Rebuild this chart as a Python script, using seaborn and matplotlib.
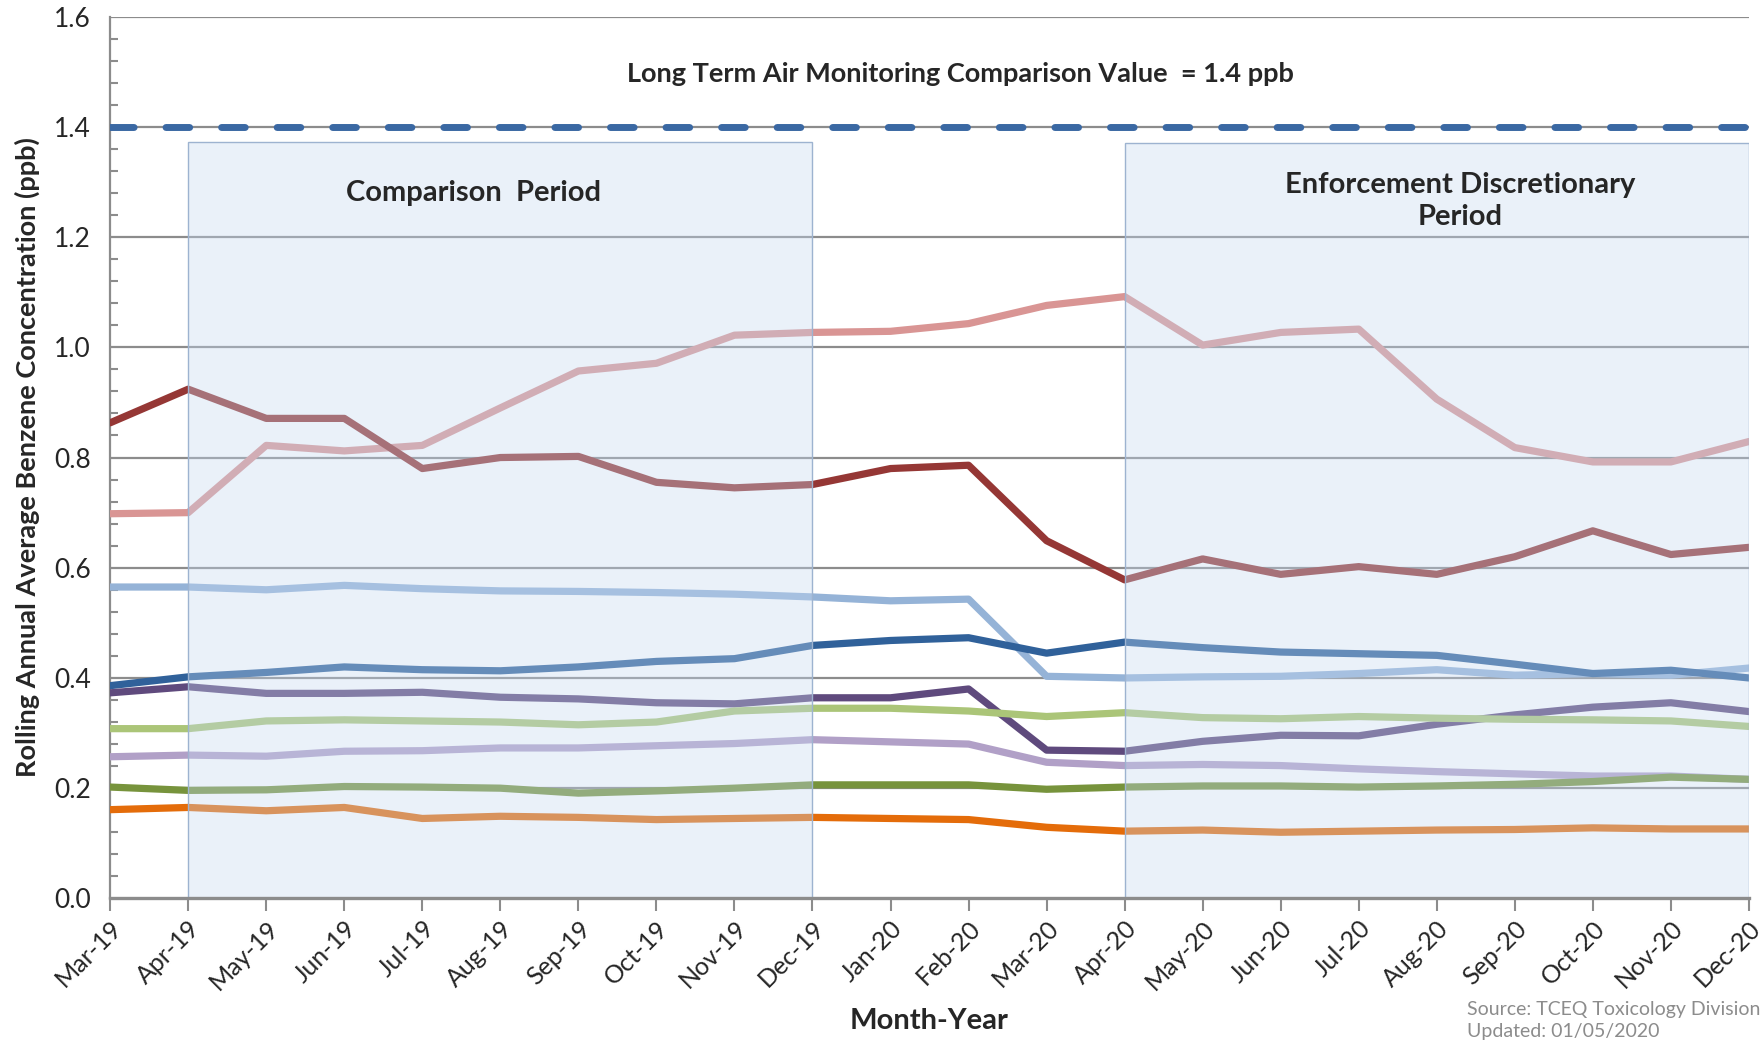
import matplotlib
matplotlib.use("Agg")
import matplotlib.pyplot as plt
from matplotlib.patches import Rectangle
from matplotlib.ticker import MultipleLocator
import seaborn as sns
import pandas as pd

months = ["Mar-19", "Apr-19", "May-19", "Jun-19", "Jul-19", "Aug-19", "Sep-19",
          "Oct-19", "Nov-19", "Dec-19", "Jan-20", "Feb-20", "Mar-20", "Apr-20",
          "May-20", "Jun-20", "Jul-20", "Aug-20", "Sep-20", "Oct-20", "Nov-20", "Dec-20"]

pink = [0.698, 0.700, 0.822, 0.812, 0.822, 0.890, 0.957, 0.971, 1.022, 1.027, 1.029,
        1.043, 1.076, 1.092, 1.004, 1.027, 1.033, 0.906, 0.818, 0.792, 0.792, 0.829]
dark_red = [0.863, 0.924, 0.871, 0.871, 0.780, 0.800, 0.802, 0.755, 0.745, 0.751, 0.780,
            0.786, 0.649, 0.578, 0.616, 0.588, 0.602, 0.588, 0.620, 0.667, 0.624, 0.637]
light_blue = [0.565, 0.565, 0.560, 0.568, 0.562, 0.558, 0.557, 0.555, 0.552, 0.547, 0.540,
              0.543, 0.403, 0.400, 0.402, 0.403, 0.408, 0.415, 0.405, 0.408, 0.405, 0.418]
dark_blue = [0.386, 0.402, 0.410, 0.420, 0.415, 0.413, 0.420, 0.430, 0.435, 0.459, 0.468,
             0.473, 0.445, 0.465, 0.455, 0.447, 0.444, 0.441, 0.425, 0.408, 0.414, 0.400]
dark_purple = [0.373, 0.384, 0.372, 0.372, 0.374, 0.365, 0.362, 0.355, 0.353, 0.364, 0.364,
               0.380, 0.269, 0.267, 0.285, 0.296, 0.295, 0.316, 0.333, 0.347, 0.355, 0.339]
light_green = [0.308, 0.308, 0.322, 0.324, 0.322, 0.320, 0.315, 0.320, 0.340, 0.345, 0.345,
               0.340, 0.330, 0.337, 0.328, 0.326, 0.330, 0.327, 0.325, 0.324, 0.322, 0.312]
light_purple = [0.257, 0.260, 0.258, 0.267, 0.268, 0.273, 0.273, 0.277, 0.281, 0.288, 0.284,
                0.280, 0.247, 0.241, 0.243, 0.241, 0.235, 0.230, 0.226, 0.222, 0.222, 0.216]
dark_green = [0.202, 0.196, 0.197, 0.203, 0.202, 0.200, 0.191, 0.195, 0.200, 0.206, 0.206,
              0.206, 0.198, 0.202, 0.204, 0.204, 0.202, 0.204, 0.207, 0.212, 0.220, 0.216]
orange = [0.161, 0.165, 0.159, 0.165, 0.145, 0.149, 0.147, 0.143, 0.145, 0.147, 0.145,
          0.143, 0.129, 0.122, 0.124, 0.120, 0.122, 0.124, 0.125, 0.128, 0.126, 0.126]

series = {"pink": pink, "dark_red": dark_red, "light_blue": light_blue,
          "dark_blue": dark_blue, "dark_purple": dark_purple, "light_green": light_green,
          "light_purple": light_purple, "dark_green": dark_green, "orange": orange}
colors = {"pink": "#D99594", "dark_red": "#953735", "light_blue": "#95B3D7",
          "dark_blue": "#30619A", "dark_purple": "#5F4A7D", "light_green": "#ABC578",
          "light_purple": "#B1A0C7", "dark_green": "#77933C", "orange": "#E46C0A"}

comparison_value = 1.4

rows = []
for name, vals in series.items():
    for i, v in enumerate(vals):
        rows.append({"site": name, "month": i, "value": v})
df = pd.DataFrame(rows)

sns.set_style("white")
plt.rcParams['font.family'] = ['Lato', 'DejaVu Sans']

fig = plt.figure(figsize=(17.63, 10.41), dpi=100)
ax = fig.add_axes([0.0625, 0.137, 0.9295, 0.847])

# gridlines
for yv in [0.2, 0.4, 0.6, 0.8, 1.0, 1.2, 1.4, 1.6]:
    ax.axhline(yv, color="#8C8C8C", lw=1.6, zorder=1)

sns.lineplot(data=df, x="month", y="value", hue="site", palette=colors,
             linewidth=5.2, legend=False, sort=False, ax=ax, zorder=3)

# comparison value line
ax.plot([0, len(months) - 1], [comparison_value, comparison_value], color="#3A68A3",
        lw=5.0, dashes=(3.4, 4.6), dash_capstyle="round", zorder=4)

# shaded periods (on top of lines)
for x0, top in [(1, 1.373), (13, 1.371)]:
    ax.add_patch(Rectangle((x0, 0), 8, top, facecolor="#C5D9F1", alpha=0.36,
                           edgecolor="none", zorder=5))
    ax.add_patch(Rectangle((x0, 0), 8, top, facecolor="none", edgecolor="#9DB3D0",
                           lw=1.0, zorder=5))

ax.text(10.9, 1.496, "Long Term Air Monitoring Comparison Value  = 1.4 ppb",
        ha="center", va="center", fontsize=19.5, fontweight="bold", zorder=6)
ax.text(4.65, 1.28, "Comparison  Period", ha="center", va="center",
        fontsize=21, fontweight="bold", zorder=6)
ax.text(17.3, 1.265, "Enforcement Discretionary\nPeriod", ha="center", va="center",
        fontsize=21, fontweight="bold", linespacing=1.3, zorder=6)

ax.set_xlim(0, len(months) - 1)
ax.set_ylim(0, 1.6)
ax.set_xticks(range(len(months)))
ax.set_xticklabels(months, rotation=45, ha="right", rotation_mode="anchor", fontsize=18)
ax.yaxis.set_major_locator(MultipleLocator(0.2))
ax.yaxis.set_minor_locator(MultipleLocator(0.04))
ax.set_yticklabels([f"{v:.1f}" for v in ax.get_yticks()], fontsize=19)
ax.tick_params(axis="y", which="major", direction="out", length=9, width=1.5,
               color="#8C8C8C", pad=5)
ax.tick_params(axis="y", which="minor", direction="in", length=6, width=1.5,
               color="#8C8C8C", left=True)
ax.tick_params(axis="x", which="major", direction="out", length=9, width=1.5,
               color="#8C8C8C", pad=4, bottom=True)

for side in ["top", "right"]:
    ax.spines[side].set_visible(False)
ax.spines["left"].set_color("#8C8C8C")
ax.spines["left"].set_linewidth(1.6)
ax.spines["bottom"].set_color("#8C8C8C")
ax.spines["bottom"].set_linewidth(2.4)
ax.spines["bottom"].set_zorder(7)

ax.set_xlabel("Month-Year", fontsize=21, fontweight="bold", labelpad=10)
ax.set_ylabel("Rolling Annual Average Benzene Concentration (ppb)", fontsize=19.5,
              fontweight="bold", labelpad=10)

fig.text(0.832, 0.030, "Source: TCEQ Toxicology Division", fontsize=14, color="#8C8C8C",
         ha="left", va="center")
fig.text(0.832, 0.009, "Updated: 01/05/2020", fontsize=14, color="#8C8C8C",
         ha="left", va="center")

fig.savefig("out.png", dpi=100)
